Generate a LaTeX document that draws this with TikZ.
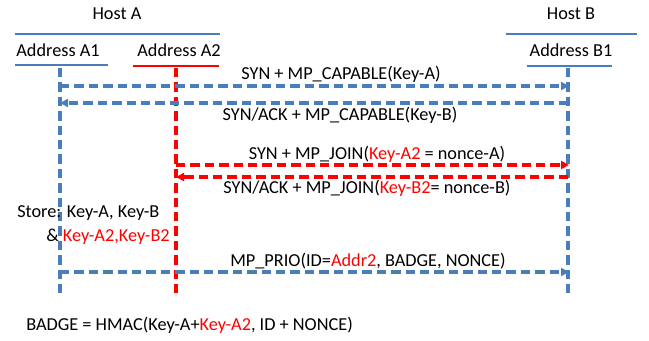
\documentclass[tikz,border=0pt]{standalone}
\usepackage{fontspec}
\setmainfont{Carlito}
\usetikzlibrary{arrows.meta}
\definecolor{bl}{HTML}{4A7EBB}
\definecolor{rd}{HTML}{FF0000}
\tikzset{
  lbl/.style={inner sep=0pt, font=\fontsize{13.7pt}{15pt}\selectfont},
  thin line/.style={draw=bl, line width=0.8pt},
  bdash/.style={draw=bl, line width=2.6pt, dash pattern=on 7pt off 3.8pt},
  rdash/.style={draw=rd, line width=2.6pt, dash pattern=on 7pt off 3.8pt},
  tip/.style={-{Triangle[length=6pt,width=6pt]}},
}
\begin{document}
\begin{tikzpicture}[x=0.75pt,y=-0.75pt]
\useasboundingbox (0,0) rectangle (649,341);
% headers
\node[lbl] (hA) at (117,14) {Host A};
\node[lbl] (hB) at (571,14) {Host B};
\draw[thin line] (15,34) -- (220,34);
\draw[thin line] (506,34) -- (637,34);
\node[lbl] (aA1) at (58,50) {Address A1};
\node[lbl] (aA2) at (179,50) {Address A2};
\node[lbl] (aB1) at (571,50) {Address B1};
\draw[thin line] (15,65) -- (108,65);
\draw[draw=rd, line width=0.8pt] (133,66) -- (219,66);
\draw[thin line] (527,66) -- (612,66);
% lifelines
\coordinate (A1t) at (60,68);  \coordinate (A1b) at (60,296);
\coordinate (A2t) at (176,68); \coordinate (A2b) at (176,296);
\coordinate (B1t) at (568,68); \coordinate (B1b) at (568,296);
\draw[bdash] (A1t) -- (A1b);
\draw[rdash] (A2t) -- (A2b);
\draw[bdash] (B1t) -- (B1b);
% message endpoints
\coordinate (m1a) at (60,86);  \coordinate (m1b) at (569,86);
\coordinate (m2a) at (568,103); \coordinate (m2b) at (60,103);
\coordinate (m3a) at (176,165); \coordinate (m3b) at (569,165);
\coordinate (m4a) at (568,177); \coordinate (m4b) at (176,177);
\coordinate (m5a) at (60,272); \coordinate (m5b) at (569,272);
\draw[bdash,tip] (m1a) -- (m1b);
\draw[bdash,tip] (m2a) -- (m2b);
\draw[rdash,tip] (m3a) -- (m3b);
\draw[rdash,tip] (m4a) -- (m4b);
\draw[bdash,tip] (m5a) -- (m5b);
% labels
\node[lbl] (l1) at (341,74) {SYN + MP\_CAPABLE(Key-A)};
\node[lbl] (l2) at (340,115) {SYN/ACK + MP\_CAPABLE(Key-B)};
\node[lbl] (l3) at (377,154) {SYN + MP\_JOIN(\textcolor{rd}{Key-A2} = nonce-A)};
\node[lbl] (l4) at (367,188) {SYN/ACK + MP\_JOIN(\textcolor{rd}{Key-B2}= nonce-B)};
\node[lbl,anchor=west] (s1) at (17,213) {Store: Key-A, Key-B};
\node[lbl,anchor=west] (s2) at (46,237) {\& \textcolor{rd}{Key-A2,Key-B2}};
\node[lbl] (l5) at (368,261) {MP\_PRIO(ID=\textcolor{rd}{Addr2}, BADGE, NONCE)};
\node[lbl,anchor=west] (bd) at (26,325) {BADGE = HMAC(Key-A+\textcolor{rd}{Key-A2}, ID + NONCE)};
\end{tikzpicture}
\end{document}
